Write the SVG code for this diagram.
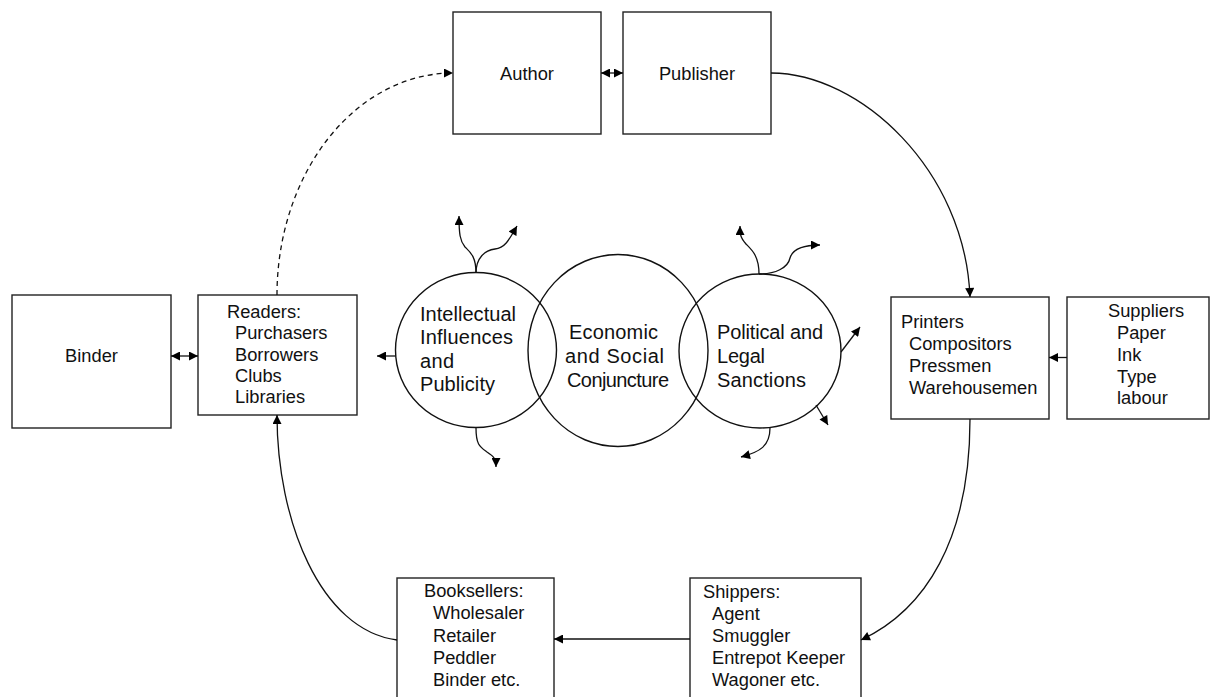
<svg xmlns="http://www.w3.org/2000/svg" width="1213" height="697" viewBox="0 0 1213 697">
  <style>
    .box { fill: #fff; stroke: #222; stroke-width: 1.4; }
    .ring { fill: none; stroke: #111; stroke-width: 1.4; }
    .lbl { font-family: "Liberation Sans", Arial, sans-serif; font-size: 18.3px; fill: #111; }
    .big { font-family: "Liberation Sans", Arial, sans-serif; font-size: 20px; fill: #111; }
    .mid { text-anchor: middle; }
    .wire { fill: none; stroke: #111; stroke-width: 1.3; }
    .dash { stroke-dasharray: 5 4; }
  </style>
  <defs>
    <marker id="ah" viewBox="0 0 10 10" refX="10" refY="5" markerWidth="10" markerHeight="9" orient="auto-start-reverse" markerUnits="userSpaceOnUse">
      <path d="M0,0 L10,5 L0,10 z" fill="#000"/>
    </marker>
  </defs>
  <rect width="1213" height="697" fill="#fff"/>

  <!-- overlapping circles -->
  <g id="economic-social">
    <ellipse class="ring" cx="618" cy="350.5" rx="90" ry="96"/>
  </g>
  <g id="intellectual">
    <ellipse class="ring" cx="476" cy="350" rx="80.5" ry="77.5"/>
    <text class="big" x="420" y="321" textLength="96" lengthAdjust="spacing">Intellectual</text>
    <text class="big" x="420" y="344" textLength="93" lengthAdjust="spacing">Influences</text>
    <text class="big" x="420" y="368" textLength="34" lengthAdjust="spacing">and</text>
    <text class="big" x="420" y="391" textLength="75" lengthAdjust="spacing">Publicity</text>
  </g>
  <g id="political">
    <ellipse class="ring" cx="760" cy="351" rx="81" ry="77"/>
    <text class="big" x="717" y="339" textLength="106" lengthAdjust="spacing">Political and</text>
    <text class="big" x="717" y="363" textLength="48" lengthAdjust="spacing">Legal</text>
    <text class="big" x="717" y="387" textLength="89" lengthAdjust="spacing">Sanctions</text>
  </g>
  <g id="economic-label">
    <text class="big" x="569" y="339" textLength="89" lengthAdjust="spacing">Economic</text>
    <text class="big" x="565" y="363" textLength="99" lengthAdjust="spacing">and Social</text>
    <text class="big" x="567" y="387" textLength="102" lengthAdjust="spacing">Conjuncture</text>
  </g>

  <!-- boxes -->
  <g id="author">
    <rect class="box" x="453" y="12" width="148" height="122"/>
    <text class="lbl mid" x="527" y="80">Author</text>
  </g>
  <g id="publisher">
    <rect class="box" x="623" y="12" width="148" height="122"/>
    <text class="lbl mid" x="697" y="80">Publisher</text>
  </g>
  <g id="binder">
    <rect class="box" x="12" y="295" width="159" height="133"/>
    <text class="lbl mid" x="91.5" y="362">Binder</text>
  </g>
  <g id="readers">
    <rect class="box" x="198" y="295" width="159" height="120"/>
    <text class="lbl" x="227" y="318">Readers:</text>
    <text class="lbl" x="235" y="339">Purchasers</text>
    <text class="lbl" x="235" y="360.5">Borrowers</text>
    <text class="lbl" x="235" y="382">Clubs</text>
    <text class="lbl" x="235" y="403">Libraries</text>
  </g>
  <g id="printers">
    <rect class="box" x="891" y="297" width="158" height="122"/>
    <text class="lbl" x="901" y="328">Printers</text>
    <text class="lbl" x="909" y="350">Compositors</text>
    <text class="lbl" x="909" y="372">Pressmen</text>
    <text class="lbl" x="909" y="394">Warehousemen</text>
  </g>
  <g id="suppliers">
    <rect class="box" x="1067" y="297" width="142" height="122"/>
    <text class="lbl" x="1108" y="317">Suppliers</text>
    <text class="lbl" x="1117" y="339">Paper</text>
    <text class="lbl" x="1117" y="361">Ink</text>
    <text class="lbl" x="1117" y="382.5">Type</text>
    <text class="lbl" x="1117" y="404">labour</text>
  </g>
  <g id="shippers">
    <rect class="box" x="690" y="578" width="171" height="130"/>
    <text class="lbl" x="703" y="598">Shippers:</text>
    <text class="lbl" x="712" y="620">Agent</text>
    <text class="lbl" x="712" y="642">Smuggler</text>
    <text class="lbl" x="712" y="664">Entrepot Keeper</text>
    <text class="lbl" x="712" y="685.5">Wagoner etc.</text>
  </g>
  <g id="booksellers">
    <rect class="box" x="397" y="578" width="157" height="130"/>
    <text class="lbl" x="424" y="597">Booksellers:</text>
    <text class="lbl" x="433" y="619">Wholesaler</text>
    <text class="lbl" x="433" y="641.5">Retailer</text>
    <text class="lbl" x="433" y="663.5">Peddler</text>
    <text class="lbl" x="433" y="685.5">Binder etc.</text>
  </g>

  <!-- connectors -->
  <g id="connectors">
    <!-- book cycle -->
    <path class="wire" d="M601,73 L623,73" marker-start="url(#ah)" marker-end="url(#ah)"/>
    <path class="wire" d="M771,73 C860,73 965,170 970,297" marker-end="url(#ah)"/>
    <path class="wire" d="M1067,357.5 L1049,357.5" marker-end="url(#ah)"/>
    <path class="wire" d="M970,419 C970,540 925,610 861,640" marker-end="url(#ah)"/>
    <path class="wire" d="M690,639 L554,639" marker-end="url(#ah)"/>
    <path class="wire" d="M397,640 C320,630 277,520 277,415" marker-end="url(#ah)"/>
    <path class="wire" d="M171,356 L198,356" marker-start="url(#ah)" marker-end="url(#ah)"/>
    <path class="wire dash" d="M277,295 A176,222 0 0 1 453,73" marker-end="url(#ah)"/>

    <!-- influences radiating from the circles -->
    <path class="wire" d="M476,273 C476,256 470,252 465,247 C460,241 459,234 459,216" marker-end="url(#ah)"/>
    <path class="wire" d="M476,273 C476,258 485,250 495,249 C505,248 509,240 517,226" marker-end="url(#ah)"/>
    <path class="wire" d="M476,428 C476,445 480,447 487,452 C493,456 496,458 496,467" marker-end="url(#ah)"/>
    <path class="wire" d="M395.5,356 L377,356" marker-end="url(#ah)"/>
    <path class="wire" d="M759,274 C759,256 752,250 746,244 C741,238 740,236 740,226" marker-end="url(#ah)"/>
    <path class="wire" d="M759,274 C775,274 788,268 790,258 C793,248 805,245 820,245" marker-end="url(#ah)"/>
    <path class="wire" d="M841,352 L860,327" marker-end="url(#ah)"/>
    <path class="wire" d="M816,405 L828,425" marker-end="url(#ah)"/>
    <path class="wire" d="M770,428 C770,446 760,452 741,457" marker-end="url(#ah)"/>
  </g>
</svg>
